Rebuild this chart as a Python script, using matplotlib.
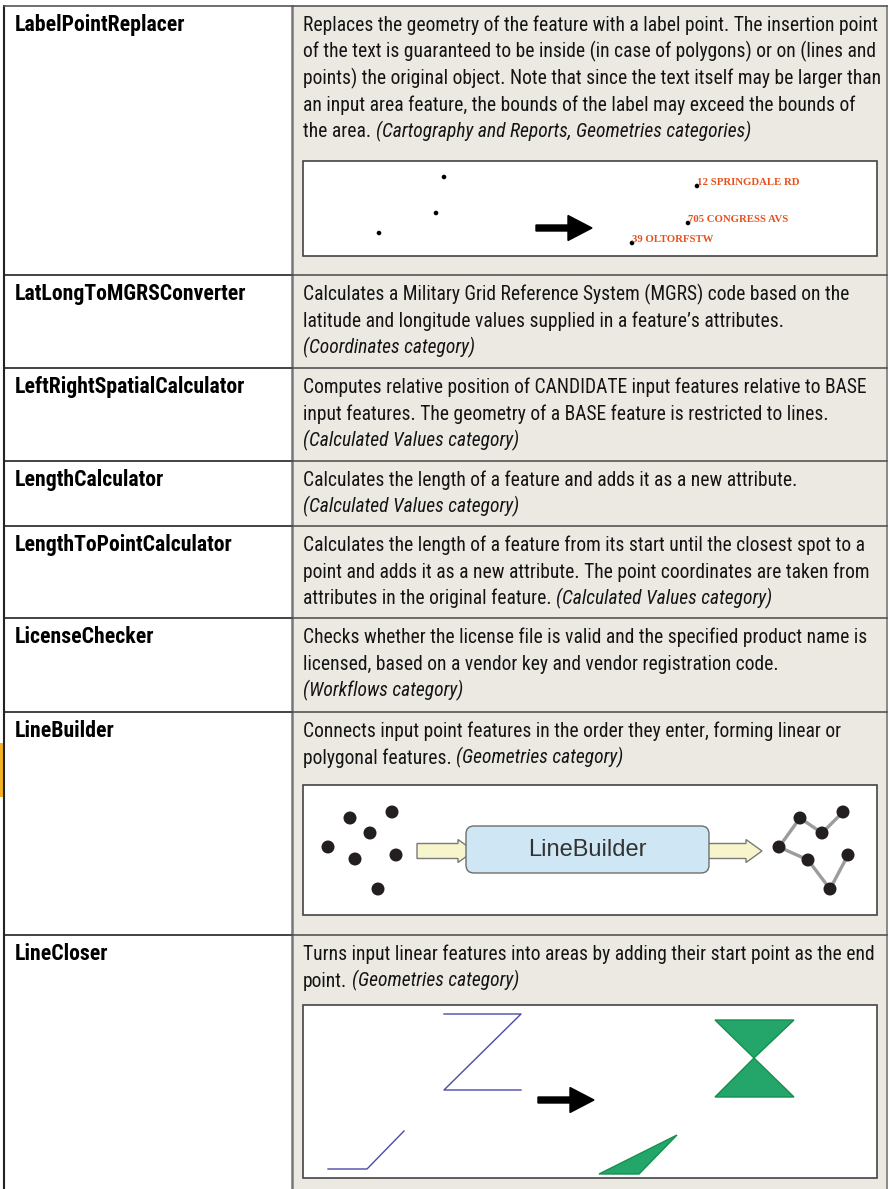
import matplotlib
matplotlib.use("Agg")
import matplotlib.pyplot as plt
from matplotlib import font_manager
from matplotlib.patches import Rectangle, FancyBboxPatch, Polygon, FancyArrow, Circle

W, H = 892, 1189

# ---------------- table content ----------------
names = ["LabelPointReplacer", "LatLongToMGRSConverter", "LeftRightSpatialCalculator",
         "LengthCalculator", "LengthToPointCalculator", "LicenseChecker",
         "LineBuilder", "LineCloser"]
row_tops = [6, 275, 368, 461, 526, 618, 712, 935]

# text after "|" is set in italics
descriptions = [
    ["Replaces the geometry of the feature with a label point. The insertion point",
     "of the text is guaranteed to be inside (in case of polygons) or on (lines and",
     "points) the original object. Note that since the text itself may be larger than",
     "an input area feature, the bounds of the label may exceed the bounds of",
     "the area.|(Cartography and Reports, Geometries categories)"],
    ["Calculates a Military Grid Reference System (MGRS) code based on the",
     "latitude and longitude values supplied in a feature\u2019s attributes.",
     "|(Coordinates category)"],
    ["Computes relative position of CANDIDATE input features relative to BASE",
     "input features. The geometry of a BASE feature is restricted to lines.",
     "|(Calculated Values category)"],
    ["Calculates the length of a feature and adds it as a new attribute.",
     "|(Calculated Values category)"],
    ["Calculates the length of a feature from its start until the closest spot to a",
     "point and adds it as a new attribute. The point coordinates are taken from",
     "attributes in the original feature.|(Calculated Values category)"],
    ["Checks whether the license file is valid and the specified product name is",
     "licensed, based on a vendor key and vendor registration code.",
     "|(Workflows category)"],
    ["Connects input point features in the order they enter, forming linear or",
     "polygonal features.|(Geometries category)"],
    ["Turns input linear features into areas by adding their start point as the end",
     "point.|(Geometries category)"],
]

# illustration boxes (left, top, right, bottom)
box_lpr = (303, 161, 877, 256)
box_lb = (303, 785, 877, 915)
box_lc = (303, 1005, 877, 1178)

# LabelPointReplacer sketch
lpr_points_in = [(444, 177), (436, 213), (379, 233)]
lpr_labels = ["12 SPRINGDALE RD", "705 CONGRESS AVS", "39 OLTORFSTW"]
lpr_points_out = [(697, 186), (688, 223), (632, 243)]

# LineBuilder sketch
lb_points_in = [(350, 818), (392, 812), (370, 833), (328, 847), (355, 859), (396, 855), (378, 889)]
lb_path_out = [(843, 812), (822, 833), (800, 818), (779, 847), (808, 860), (830, 889), (848, 855)]

# LineCloser sketch
lc_lines_in = [[(444, 1014), (521, 1014), (444, 1090), (521, 1090)],
               [(328, 1169), (367, 1169), (404, 1131)]]
lc_areas_out = [[(715, 1020), (794, 1020), (754, 1058)],
                [(754, 1058), (715, 1097), (794, 1097)],
                [(599, 1174), (639, 1174), (677, 1135)]]


def pick_font(cands):
    for c in cands:
        try:
            font_manager.findfont(font_manager.FontProperties(family=c), fallback_to_default=False)
            return c
        except Exception:
            pass
    return "DejaVu Sans"


body_font = pick_font(["Liberation Sans Narrow", "Roboto Condensed", "Open Sans Condensed",
                       "Liberation Sans", "DejaVu Sans"])
bg = "#ECE9E3"
ink = "#141414"

fig = plt.figure(figsize=(W / 100, H / 100), dpi=100)
ax = fig.add_axes([0, 0, 1, 1])
ax.set_xlim(0, W)
ax.set_ylim(H, 0)
ax.axis("off")

# background
ax.add_patch(Rectangle((4, 6), 288, H, fc="white", ec="none"))
ax.add_patch(Rectangle((292, 6), 595, H, fc=bg, ec="none"))
ax.plot([4, 4], [6, H], color="#222222", lw=1.5)
ax.plot([292, 292], [6, H], color="#777777", lw=1.8)
ax.plot([887, 887], [6, H], color="#777777", lw=1.2)
ax.plot([4, 887], [6, 6], color="#555555", lw=1.2)
for y in row_tops[1:]:
    ax.plot([4, 292], [y, y], color="#222222", lw=1.2)
    ax.plot([292, 887], [y, y], color="#555555", lw=1.2)
ax.add_patch(Rectangle((0, 743), 4, 54, fc="#F4B223", ec="none"))

# fit font sizes to the measured widths of the page
renderer = fig.canvas.get_renderer()


def width_of(s, size, family=None, **kw):
    t = ax.text(0, 0, s, fontsize=size, family=family or body_font, **kw)
    w = t.get_window_extent(renderer).width
    t.remove()
    return w


longest = max((ln.replace("|", " ") for d in descriptions for ln in d),
              key=lambda s: width_of(s, 10))
body_size = 10 * 573 / width_of(longest, 10)
label_size = 10 * 170 / width_of(names[0], 10, weight="bold")
space_w = width_of("a a", body_size) - width_of("aa", body_size)

line_gap = 26.6
for top, name, lines in zip(row_tops, names, descriptions):
    base = top + 25
    ax.text(15, base, name, fontsize=label_size, family=body_font, weight="bold",
            color="black", va="baseline", ha="left")
    for i, line in enumerate(lines):
        y = base + i * line_gap
        roman, _, ital = line.partition("|")
        x = 303
        if roman:
            ax.text(x, y, roman, fontsize=body_size, family=body_font, color=ink,
                    va="baseline", ha="left")
            x += width_of(roman, body_size) + space_w
        if ital:
            ax.text(x, y, ital, fontsize=body_size, family=body_font, style="italic",
                    color=ink, va="baseline", ha="left")

# illustration frames
for (l, t, r, b) in [box_lpr, box_lb, box_lc]:
    ax.add_patch(Rectangle((l, t), r - l, b - t, fc="white", ec="#444444", lw=1.2))

# LabelPointReplacer
lab_size = 7 * 103 / width_of(lpr_labels[0], 7, family="Liberation Serif", weight="bold")
for (x, y) in lpr_points_in:
    ax.add_patch(Circle((x, y), 2.3, fc="black", ec="none"))
for (x, y), lab in zip(lpr_points_out, lpr_labels):
    ax.add_patch(Circle((x, y), 2.3, fc="black", ec="none", zorder=3))
    ax.text(x, y - 1, lab, fontsize=lab_size, family="Liberation Serif", weight="bold",
            color="#E8501C", va="baseline", ha="left")
ax.add_patch(FancyArrow(536, 228, 56, 0, width=6, head_width=25, head_length=24,
                        length_includes_head=True, fc="black", ec="black"))
ax.add_patch(FancyArrow(538, 1100, 56, 0, width=6, head_width=25, head_length=24,
                        length_includes_head=True, fc="black", ec="black"))


# LineBuilder
def block_arrow(x0, x1, yc):
    hl, sh, hh = 16, 7.5, 11.5
    pts = [(x0, yc - sh), (x1 - hl, yc - sh), (x1 - hl, yc - hh), (x1, yc),
           (x1 - hl, yc + hh), (x1 - hl, yc + sh), (x0, yc + sh)]
    ax.add_patch(Polygon(pts, closed=True, fc="#F7F5CC", ec="#7A7A7A", lw=1.0))


block_arrow(417, 474, 851)
block_arrow(703, 762, 851)
ax.add_patch(FancyBboxPatch((466, 826), 243, 47, boxstyle="round,pad=0,rounding_size=8",
                            fc="#CFE6F4", ec="#6E6E6E", lw=1.0))
ax.text(587, 850, "LineBuilder", fontsize=17, family="Liberation Sans", color="#333333",
        va="center", ha="center")
for (x, y) in lb_points_in:
    ax.add_patch(Circle((x, y), 6.5, fc="#231F20", ec="none", zorder=3))
px = [p[0] for p in lb_path_out]
py = [p[1] for p in lb_path_out]
ax.plot(px, py, color="#9C9C9C", lw=2.4, zorder=2, solid_capstyle="round")
for (x, y) in lb_path_out:
    ax.add_patch(Circle((x, y), 6.5, fc="#231F20", ec="none", zorder=3))

# LineCloser
for ln in lc_lines_in:
    ax.plot([p[0] for p in ln], [p[1] for p in ln], color="#4A4AA8", lw=1.0)
for tri in lc_areas_out:
    ax.add_patch(Polygon(tri, closed=True, fc="#24A66A", ec="#14904F", lw=1.0))

fig.savefig("out.png", dpi=100)
